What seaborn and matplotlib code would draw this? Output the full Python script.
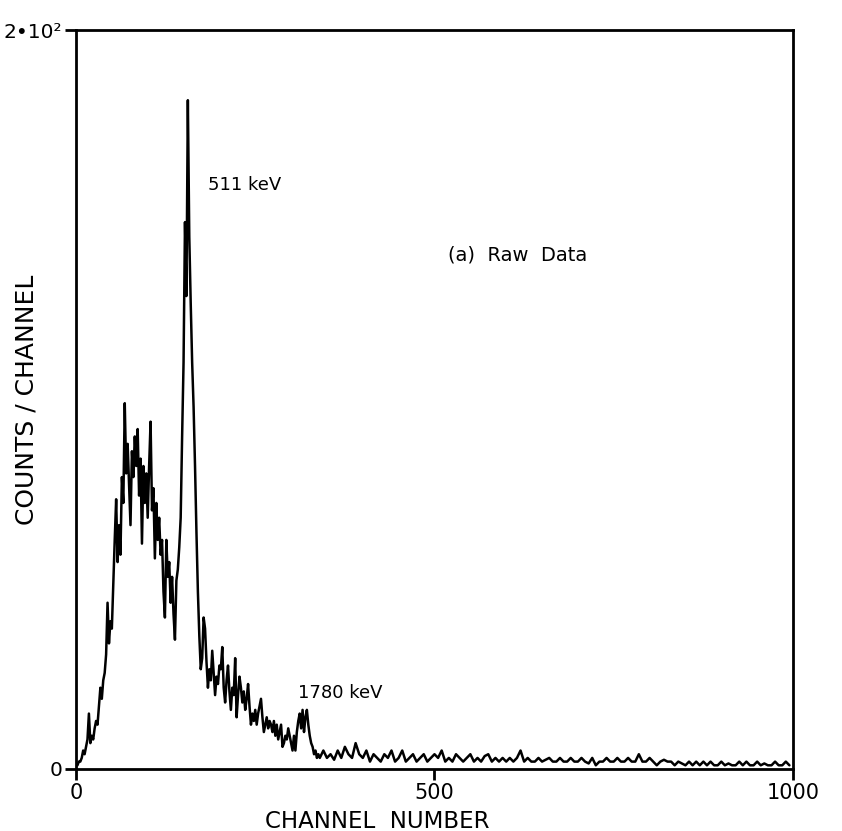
import numpy as np
import pandas as pd
import matplotlib
matplotlib.use("Agg")
import matplotlib.pyplot as plt
import seaborn as sns

# Counts per channel, read in four stretches of the spectrum.
# Low-energy hump, channels 0..140 (step 2)
hump_counts = [1, 1, 2, 2, 3, 5, 4, 6, 8, 15,
               7, 9, 8, 11, 13, 12, 17, 22, 19, 24,
               26, 31, 45, 34, 40, 38, 50, 62, 73, 56,
               66, 58, 79, 72, 99, 80, 88, 77, 66, 86,
               79, 90, 82, 92, 74, 84, 61, 82, 72, 80,
               68, 82, 94, 70, 76, 57, 72, 62, 68, 58,
               62, 48, 41, 62, 52, 56, 45, 52, 42, 35,
               51]
# 511 keV annihilation peak, channels 142..168 (step 2)
peak_counts = [54, 60, 68, 90, 110, 148, 128, 181, 144, 126, 110, 98, 82, 64]
# Compton tail and the 1780 keV line, channels 170..338 (step 2)
tail_counts = [48, 36, 27, 30, 41, 38, 29, 22, 27, 24,
               32, 26, 20, 25, 23, 28, 27, 33, 22, 18,
               24, 28, 21, 16, 22, 20, 30, 14, 20, 25,
               22, 18, 21, 16, 19, 23, 17, 12, 15, 13,
               16, 12, 15, 17, 19, 14, 10, 12, 14, 11,
               13, 12, 10, 13, 9, 12, 8, 10, 12, 6,
               7, 9, 8, 11, 9, 7, 5, 9, 5, 10,
               13, 15, 11, 16, 10, 14, 16, 12, 9, 7,
               6, 4, 5, 3, 4]
# Flat background, channels 340..995 (step 5)
background_counts = [3, 5, 3, 4, 2.5, 5, 3, 6, 4, 3,
                     7, 4, 3, 5, 2, 4, 3, 2, 4, 3,
                     5, 2, 3, 5, 2, 3, 4, 2, 3, 4,
                     2, 3, 4, 3, 5, 2, 3, 2, 4, 3,
                     2, 3, 4, 2, 3, 2, 3.5, 4, 2, 3,
                     2, 3, 2, 3, 2, 3, 5, 2, 3, 2,
                     2, 3, 2, 2.5, 3, 2, 2, 3, 2, 2,
                     3, 2, 2, 3, 2, 1.5, 3, 1, 2, 2,
                     3, 2, 2, 3, 2, 2, 3, 2, 2, 4,
                     2, 2, 3, 2, 1, 2, 2.5, 2, 2, 1,
                     2, 1.5, 1, 2, 1, 2, 1, 2, 1, 2,
                     1, 1, 2, 1, 1.5, 1, 1, 2, 1, 2,
                     1, 1, 2, 1, 1.5, 1, 1, 2, 1, 1,
                     2, 1]

channels = np.concatenate([
    np.arange(0, 141, 2),
    np.arange(142, 169, 2),
    np.arange(170, 339, 2),
    np.arange(340, 1000, 5),
])
counts = np.concatenate([hump_counts, peak_counts, tail_counts, background_counts])
df = pd.DataFrame({"channel": channels, "counts": counts})

x_ticks = [0, 500, 1000]
x_tick_labels = ["0", "500", "1000"]
y_ticks = [0, 200]
y_tick_labels = ["0", "2\u202210\u00b2"]

sns.set_style("ticks")
plt.rcParams["font.family"] = ["DejaVu Sans"]
plt.rcParams["text.color"] = "black"
plt.rcParams["axes.labelcolor"] = "black"
plt.rcParams["xtick.color"] = "black"
plt.rcParams["ytick.color"] = "black"

fig = plt.figure(figsize=(8.42, 8.31), dpi=100)
ax = fig.add_axes([76 / 842, 1 - 769 / 831, 717 / 842, 739 / 831])

sns.lineplot(data=df, x="channel", y="counts", estimator=None, sort=False,
             color="black", linewidth=1.8, ax=ax)

ax.set_xlim(0, 1000)
ax.set_ylim(0, 200)
ax.set_xticks(x_ticks)
ax.set_xticklabels(x_tick_labels, fontsize=15)
ax.set_yticks(y_ticks)
ax.set_yticklabels(y_tick_labels, fontsize=14.5)
ax.tick_params(direction="out", length=8, width=2, pad=2, color="black")
for side in ["left", "right", "top", "bottom"]:
    ax.spines[side].set_linewidth(2)
    ax.spines[side].set_color("black")

ax.set_xlabel("CHANNEL  NUMBER", fontsize=16.5)
ax.set_ylabel("COUNTS / CHANNEL", fontsize=18)
ax.xaxis.set_label_coords(0.42, -0.055)
ax.yaxis.set_label_coords(-0.052, 0.5)

ax.text(184, 158, "511 keV", fontsize=13, ha="left", va="center")
ax.text(310, 20.5, "1780 keV", fontsize=13, ha="left", va="center")
ax.text(616, 139, "(a)  Raw  Data", fontsize=14, ha="center", va="center")

fig.savefig("out.png", dpi=100, facecolor="white")
